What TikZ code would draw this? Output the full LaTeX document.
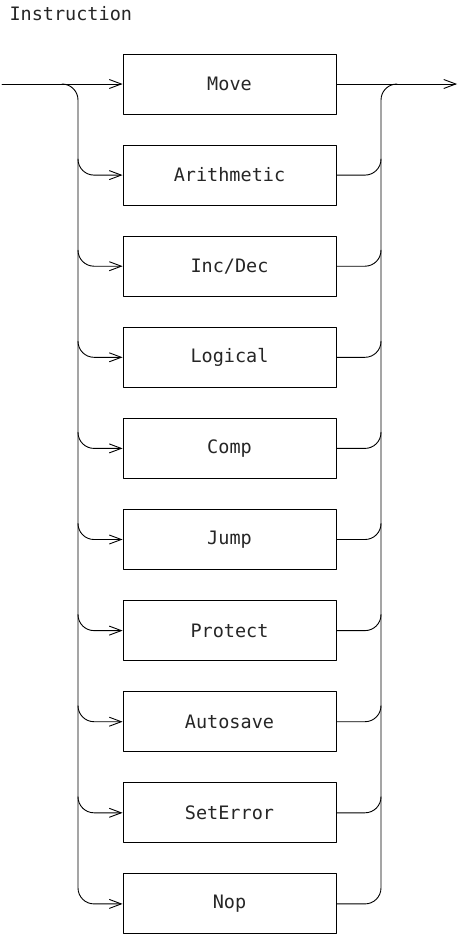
\documentclass[tikz,border=0pt]{standalone}
\usepackage{fontspec}
\newfontfamily\plotfont{DejaVu Sans Mono}
\usetikzlibrary{arrows.meta,calc}

\tikzset{
  label/.style={font=\plotfont\fontsize{18.5}{20}\selectfont,text=black!85},
  rule/.style={draw,line width=0.9pt,minimum width=213pt,minimum height=60pt,
    inner sep=0pt,label},
  flow/.style={line width=0.9pt,rounded corners=16pt},
  tip/.style={-{Straight Barb[length=12pt,width=9pt,line width=0.9pt]}}
}

\begin{document}
\begin{tikzpicture}[x=1pt,y=-1pt,line cap=round,line join=round]
  \useasboundingbox (0,0) rectangle (458,934);
  \node[anchor=base west,label] (title) at (6,21) {Instruction};
  % the alternatives, one box per row
  \foreach \name [count=\k] in {Move,Arithmetic,Inc/Dec,Logical,Comp,Jump,Protect,Autosave,SetError,Nop}
    \node[rule] (b\k) at (229.5,{84+(\k-1)*91.1}) {\name};
  \coordinate (in) at (2,84);
  \coordinate (out) at (457,84);
  \coordinate (lrail) at (78,84);
  \coordinate (rrail) at (381,84);
  % main line straight through the first box
  \draw[line width=0.9pt,tip] (in) -- (b1.west);
  \draw[line width=0.9pt,tip] (b1.east) -- (out);
  % the two rails, down to the last box
  \draw[flow,tip] ($(lrail)+(-16,0)$) -| (lrail |- b10.west) -- (b10.west);
  \draw[flow] (b10.east) -| (rrail) -- ++(16,0);
  % branches off the rails
  \foreach \k in {2,...,9} {
    \draw[flow,tip] ($(lrail |- b\k.west)+(0,-16)$) |- (b\k.west);
    \draw[flow] (b\k.east) -| ($(rrail |- b\k.east)+(0,-16)$);
  }
\end{tikzpicture}
\end{document}
